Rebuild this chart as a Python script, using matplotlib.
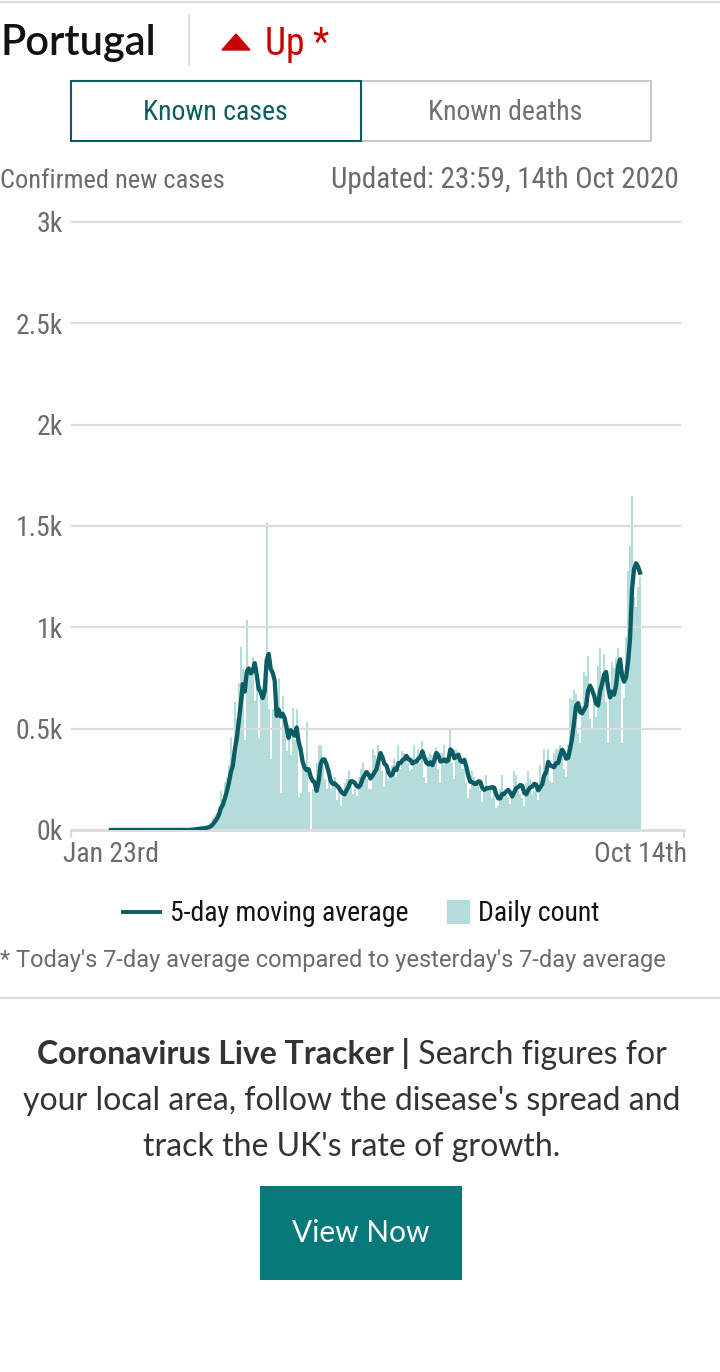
import pandas as pd
import matplotlib
matplotlib.use('Agg')
import matplotlib.pyplot as plt
from matplotlib.patches import Rectangle, Polygon
from matplotlib.lines import Line2D

# daily confirmed new cases, Portugal, Jan 23rd - Oct 14th 2020
before_outbreak = [0] * 39  # Jan 23 - Mar 1
mar = [2, 2, 5, 4, 8, 9, 9, 9, 11, 18, 19, 34, 57, 76, 86, 117, 194, 143, 235,
       260, 320, 460, 302, 633, 549, 724, 902, 792, 446, 1035]
apr = [808, 783, 852, 638, 754, 452, 712, 699, 815, 1516, 598, 349, 598, 629,
       643, 750, 181, 663, 521, 392, 516, 371, 603, 444, 595, 163, 181, 305,
       295, 533]
may = [187, 0, 200, 250, 330, 420, 420, 320, 250, 200, 250, 200, 240, 260, 150,
       200, 120, 180, 230, 250, 290, 250, 180, 200, 170, 260, 300, 330, 290,
       250, 200]
jun = [200, 400, 370, 330, 420, 380, 290, 210, 290, 250, 300, 320, 350, 260,
       420, 300, 390, 380, 340, 330, 290, 300, 420, 350, 400, 330, 440, 260,
       230, 360]
jul = [380, 370, 380, 410, 300, 230, 380, 420, 360, 330, 500, 330, 250, 400,
       380, 350, 300, 300, 230, 160, 200, 290, 260, 230, 220, 190, 140, 210,
       270, 220, 200]
aug = [160, 190, 110, 120, 200, 270, 190, 170, 160, 130, 180, 290, 270, 190,
       180, 160, 120, 230, 290, 250, 180, 190, 210, 150, 320, 260, 400, 300,
       400, 240, 230]
sep = [380, 400, 400, 420, 380, 300, 260, 420, 650, 640, 690, 670, 480, 430,
       610, 780, 760, 860, 550, 500, 650, 560, 810, 900, 690, 870, 630, 430,
       650, 830]
octo = [800, 850, 900, 830, 430, 650, 950, 1280, 1400, 1650, 1150, 1100, 1200,
        1250]

y_ticks = [0, 500, 1000, 1500, 2000, 2500, 3000]
y_labels = ['0k', '0.5k', '1k', '1.5k', '2k', '2.5k', '3k']
x_labels = ['Jan 23rd', 'Oct 14th']

daily = before_outbreak + mar + apr + may + jun + jul + aug + sep + octo
dates = pd.date_range('2020-01-23', periods=len(daily), freq='D')
df = pd.DataFrame({'daily': daily}, index=dates)
df['avg'] = df['daily'].rolling(5, min_periods=1).mean()

W, H = 720, 1372
TEAL = '#0c5c64'
BAR = '#b3dcdb'
GRID = '#dcdcdc'
GREY = '#6b6b6b'
RED = '#c70000'
COND = ['Roboto Condensed', 'Liberation Sans Narrow', 'DejaVu Sans']
NARROW = ['Roboto', 'DejaVu Sans']
SANS = ['Lato', 'DejaVu Sans']


def fx(x):
    return x / W


def fy(y):
    return 1 - y / H


fig = plt.figure(figsize=(W / 100, H / 100), dpi=100)
fig.patch.set_facecolor('white')

# header
fig.add_artist(Line2D([0, 1], [fy(2), fy(2)], color=GRID, lw=1.5))
fig.text(fx(0), fy(55), 'Portugal', family=SANS, fontsize=30, weight='semibold',
         color='#121212', va='baseline', ha='left')
fig.add_artist(Line2D([fx(189), fx(189)], [fy(15), fy(65)], color=GRID, lw=1.2))
fig.add_artist(Polygon([[fx(222), fy(50)], [fx(250), fy(50)], [fx(236), fy(34)]],
                       closed=True, color=RED, transform=fig.transFigure))
fig.text(fx(265), fy(55), 'Up *', family=COND, fontsize=27, color=RED,
         va='baseline', ha='left')

# tabs
fig.add_artist(Rectangle((fx(361), fy(141)), (651 - 361) / W, 60 / H,
                         transform=fig.transFigure, fill=False,
                         edgecolor='#c8c8c8', lw=1.4))
fig.add_artist(Rectangle((fx(71), fy(141)), (361 - 71) / W, 60 / H,
                         transform=fig.transFigure, fill=False,
                         edgecolor=TEAL, lw=1.5))
fig.text(fx(215), fy(120), 'Known cases', family=COND, fontsize=20, color=TEAL,
         ha='center', va='baseline')
fig.text(fx(505), fy(120), 'Known deaths', family=COND, fontsize=20,
         color='#707070', ha='center', va='baseline')

fig.text(fx(0), fy(188), 'Confirmed new cases', family=COND, fontsize=19,
         color=GREY, ha='left', va='baseline')
fig.text(fx(679), fy(188), 'Updated: 23:59, 14th Oct 2020', family=COND,
         fontsize=21, color=GREY, ha='right', va='baseline')

# chart
x0 = dates[0]
px_per_day = (640 - 111) / (len(daily) - 1)
left = x0 - pd.Timedelta(days=(111 - 71) / px_per_day)
right = x0 + pd.Timedelta(days=(684 - 111) / px_per_day)

ax = fig.add_axes([fx(71), fy(830), (684 - 71) / W, (830 - 222) / H])
ax.bar(df.index, df['daily'], width=1.0, color=BAR, linewidth=0, zorder=1)
for t in y_ticks[1:]:
    ax.axhline(t, xmin=1 / 613, xmax=609 / 613, color=GRID, lw=1.6, zorder=2,
               clip_on=False)
ax.axhline(0, color=GRID, lw=2.2, zorder=2, clip_on=False)
ax.plot(df.index, df['avg'], color=TEAL, lw=3.1, zorder=3,
        solid_joinstyle='round')
ax.set_xlim(left, right)
ax.set_ylim(0, 3000)
for s in ax.spines.values():
    s.set_visible(False)
ax.set_yticks(y_ticks)
ax.set_yticklabels(y_labels, family=COND, fontsize=20, color=GREY)
ax.tick_params(axis='y', length=0, pad=6)
ax.set_xticks([dates[0], dates[-1]])
ax.set_xticklabels(x_labels, family=COND, fontsize=20, color=GREY)
ax.tick_params(axis='x', length=0, pad=8)
ax.set_xticks([left, right], minor=True)
ax.tick_params(axis='x', which='minor', length=6, width=1.6, color=GRID)

# legend
fig.add_artist(Line2D([fx(123), fx(160)], [fy(912), fy(912)], color=TEAL, lw=2.8))
fig.text(fx(170), fy(921), '5-day moving average', family=COND, fontsize=20,
         color='#121212', ha='left', va='baseline')
fig.add_artist(Rectangle((fx(447), fy(924)), 23 / W, 24 / H,
                         transform=fig.transFigure, color=BAR, lw=0))
fig.text(fx(478), fy(921), 'Daily count', family=COND, fontsize=20,
         color='#121212', ha='left', va='baseline')

fig.text(fx(0), fy(967),
         "* Today's 7-day average compared to yesterday's 7-day average",
         family=NARROW, fontsize=17, color=GREY, ha='left', va='baseline')
fig.add_artist(Line2D([0, 1], [fy(998), fy(998)], color=GRID, lw=1.5))

# promo block
renderer = fig.canvas.get_renderer()
t1 = fig.text(0, fy(1064), 'Coronavirus Live Tracker |', family=SANS,
              fontsize=23, weight='bold', color='#333333', ha='left',
              va='baseline')
t2 = fig.text(0, fy(1064), ' Search figures for', family=SANS, fontsize=23,
              color='#333333', ha='left', va='baseline')
w1 = t1.get_window_extent(renderer).width
w2 = t2.get_window_extent(renderer).width
start = 352 - (w1 + w2) / 2
t1.set_x(fx(start))
t2.set_x(fx(start + w1))
fig.text(fx(352), fy(1110), "your local area, follow the disease's spread and",
         family=SANS, fontsize=23, color='#333333', ha='center', va='baseline')
fig.text(fx(352), fy(1156), "track the UK's rate of growth.", family=SANS,
         fontsize=23, color='#333333', ha='center', va='baseline')
fig.add_artist(Rectangle((fx(260), fy(1280)), (462 - 260) / W, 94 / H,
                         transform=fig.transFigure, color='#08797a', lw=0))
fig.text(fx(361), fy(1242), 'View Now', family=SANS, fontsize=21.5,
         color='white', ha='center', va='baseline')

fig.savefig('out.png', dpi=100, facecolor='white')
